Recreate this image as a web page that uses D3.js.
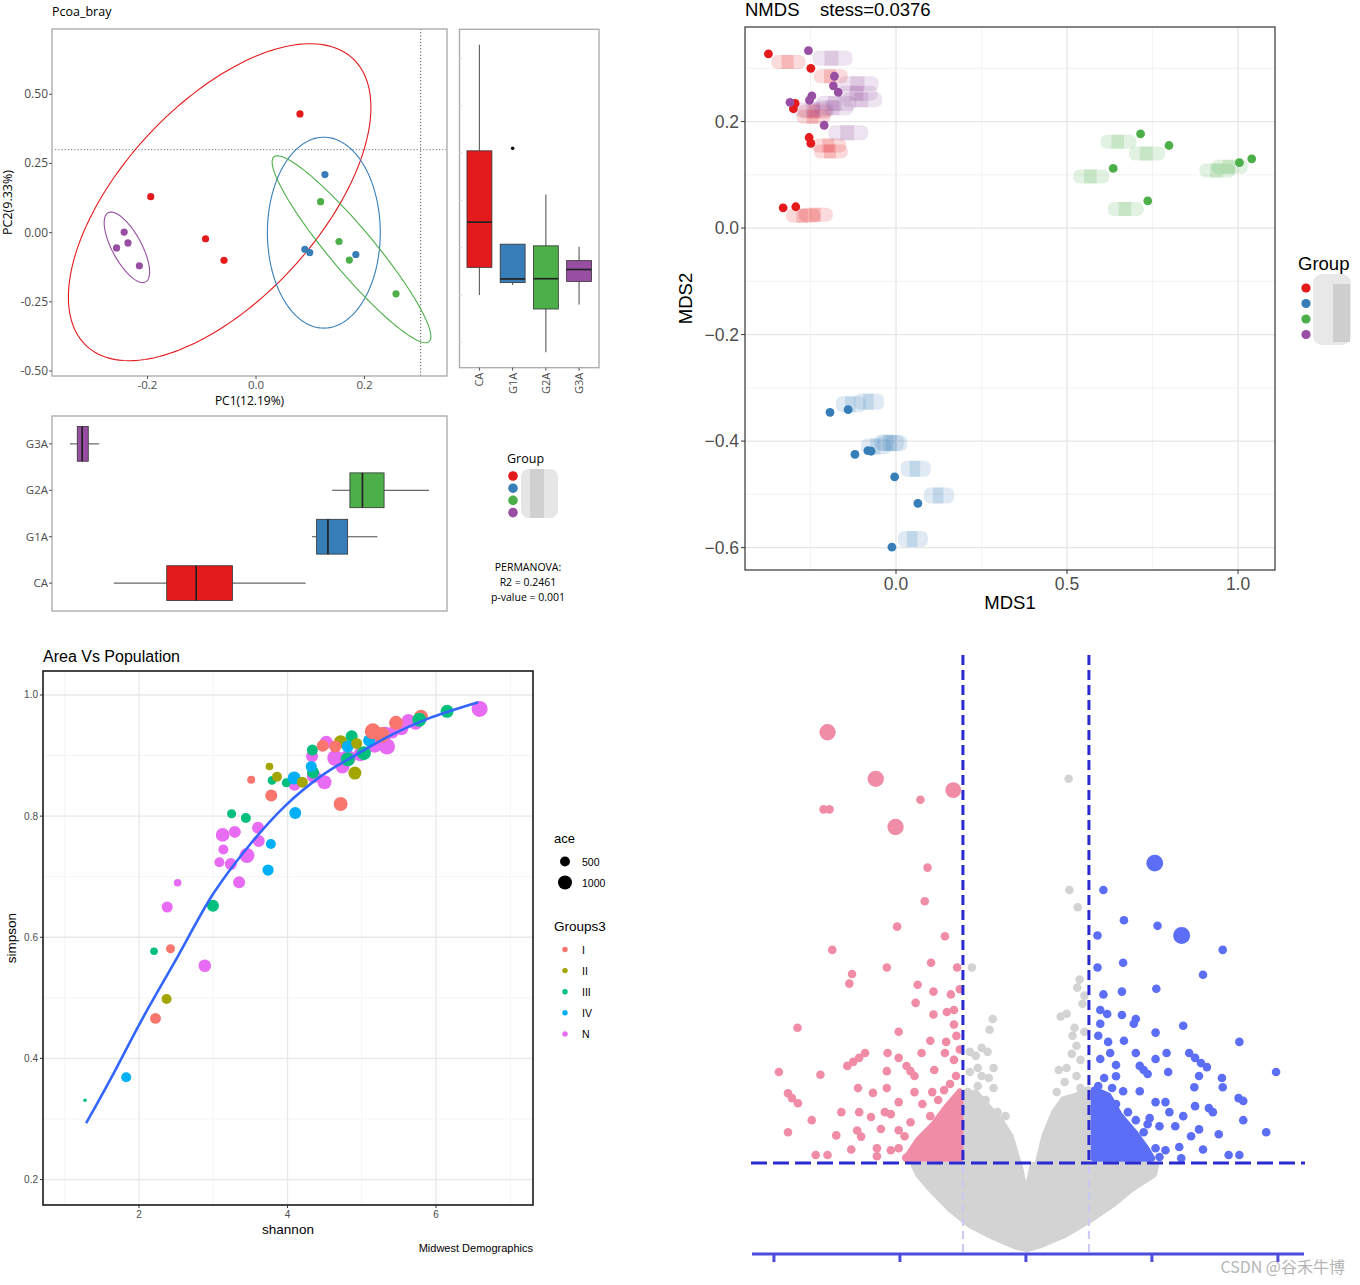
<!DOCTYPE html>
<html><head><meta charset="utf-8">
<script src="https://cdn.jsdelivr.net/npm/d3@7"></script>
<style>body{margin:0;background:#fff} svg{display:block}</style>
</head><body>
<svg id="c" width="1360" height="1285"></svg>
<script>
// ================= DATA =================
// --- PCoA (Bray) ---
const groups = ["CA","G1A","G2A","G3A"];
const pcoaGroup = ["CA","CA","CA","CA","G1A","G1A","G1A","G1A","G2A","G2A","G2A","G2A","G3A","G3A","G3A","G3A"];
const pcoaPC1 = [0.081,-0.194,-0.093,-0.059, 0.127,0.090,0.099,0.184, 0.119,0.153,0.172,0.258, -0.243,-0.257,-0.236,-0.215];
const pcoaPC2 = [0.429,0.130,-0.022,-0.100, 0.210,-0.060,-0.072,-0.079, 0.112,-0.032,-0.099,-0.221, 0.002,-0.055,-0.037,-0.120];
const ellipseCx = [-0.067, 0.125, 0.176, -0.238];
const ellipseCy = [0.110, 0.000, -0.060, -0.053];
const ellipseU = [[0.245,0.520],[0.104,0],[0.1429,-0.3338],[0.0345,-0.1249]];
const ellipseV = [[0.133,-0.240],[0,0.345],[-0.0311,-0.0511],[-0.0237,-0.0251]];
const pcoaXDomain = [-0.376, 0.352];
const pcoaYDomain = [-0.518, 0.736];
const pcoaXTicks = [-0.2, 0, 0.2];
const pcoaYTicks = [-0.5, -0.25, 0, 0.25, 0.5];
const refLineX = 0.3035, refLineY = 0.30;
const permanovaText = ["PERMANOVA:", "R2 = 0.2461", "p-value = 0.001"];

// --- NMDS ---
const nmdsGroup = ["CA","CA","CA","CA","CA","CA","CA","CA",
  "G3A","G3A","G3A","G3A","G3A","G3A","G3A","G3A",
  "G2A","G2A","G2A","G2A","G2A","G2A",
  "G1A","G1A","G1A","G1A","G1A","G1A","G1A","G1A"];
const nmds1 = [-0.373,-0.249,-0.254,-0.249,-0.330,-0.293,-0.295,-0.300,
  -0.256,-0.180,-0.183,-0.169,-0.246,-0.253,-0.310,-0.210,
  0.715,0.798,0.635,0.736,1.004,1.040,
  -0.193,-0.140,-0.120,-0.082,-0.073,-0.004,0.064,-0.012];
const nmds2 = [0.327,0.300,0.170,0.159,0.038,0.040,0.234,0.224,
  0.333,0.285,0.267,0.255,0.248,0.240,0.236,0.193,
  0.177,0.155,0.112,0.051,0.123,0.130,
  -0.346,-0.341,-0.425,-0.418,-0.419,-0.467,-0.517,-0.599];
const nmdsXDomain = [-0.4415, 1.108];
const nmdsYDomain = [-0.642, 0.3775];
const nmdsXTicks = [0, 0.5, 1.0], nmdsXMinor = [-0.25, 0.25, 0.75];
const nmdsYTicks = [-0.6, -0.4, -0.2, 0, 0.2], nmdsYMinor = [-0.5, -0.3, -0.1, 0.1, 0.3];

// --- Area Vs Population (shannon / simpson) ---
const scGroup = ["III","IV","I","II","I","III","N","N","N","III","N","N","N","N","N","N","N","N","N","IV","IV","III","III","IV","I","I","II","III","II","I","III","IV","N","II","N","III","IV","N","III","N","I","N","II","III","N","N","III","N","II","IV","I","N","III","II","IV","I","N","I","N","N","N","I","N","N","I","III","N","III","N"];
const shannon = [1.273,1.827,2.222,2.371,2.424,2.202,2.886,2.380,2.520,2.996,3.348,3.083,3.237,3.136,3.126,3.290,3.454,3.603,3.613,3.776,3.738,3.247,3.439,4.104,4.715,3.511,3.757,3.791,3.858,3.781,3.983,4.089,4.094,4.200,4.354,4.344,4.320,4.498,4.335,4.330,4.474,4.522,4.715,4.864,4.643,4.811,4.811,4.739,4.907,4.811,4.643,4.980,5.028,4.931,5.099,5.148,5.172,5.268,5.340,5.316,5.534,5.461,5.629,5.725,5.798,5.774,5.413,6.149,6.587];
const simpson = [0.331,0.369,0.466,0.498,0.581,0.577,0.553,0.650,0.690,0.652,0.691,0.724,0.721,0.745,0.769,0.774,0.735,0.781,0.759,0.754,0.711,0.804,0.797,0.805,0.820,0.860,0.882,0.859,0.865,0.834,0.855,0.863,0.852,0.856,0.866,0.872,0.882,0.856,0.909,0.899,0.916,0.922,0.923,0.932,0.896,0.896,0.894,0.882,0.871,0.915,0.915,0.902,0.904,0.920,0.925,0.940,0.918,0.934,0.915,0.936,0.945,0.954,0.957,0.954,0.964,0.959,0.938,0.973,0.977];
const ace = [66,510,595,510,413,295,810,617,300,735,735,510,735,510,940,735,1148,735,735,510,650,413,510,735,1000,327,300,377,510,735,413,862,735,617,1000,735,617,1000,617,735,735,862,862,735,1306,1306,1000,1000,862,735,735,1000,1000,617,735,1306,1306,1306,1306,1000,1000,1000,1000,1000,1000,1000,735,862,1306];
const smoothShannon = [1.288,1.6,2.043,2.525,3.006,3.487,3.969,4.45,4.932,5.413,5.894,6.568];
const smoothSimpson = [0.293,0.362,0.465,0.569,0.673,0.752,0.817,0.866,0.902,0.935,0.961,0.988];
const groups3 = ["I","II","III","IV","N"];
const aceLegend = [500, 1000];
const scXDomain = [0.707, 7.306], scYDomain = [0.158, 1.0396];
const scXTicks = [2,4,6], scXMinor = [1,3,5,7];
const scYTicks = [0.2,0.4,0.6,0.8,1.0], scYMinor = [0.3,0.5,0.7,0.9];

// --- Volcano (log2FC, -log10 p, size) ---
const volcDown = [[-3.149,7.744,3.6],[-2.384,7.048,3.6],[-1.154,6.879,3.4],[-2.070,6.327,3.6],
 [-3.212,6.591,1],[-3.118,6.591,1],[-1.675,6.735,1],[-1.562,5.720,1],[-1.606,5.216,1],[-2.045,4.837,1],
 [-1.286,4.693,1],[-3.074,4.489,1],[-2.760,4.129,1],[-2.804,3.985,1],[-2.208,4.225,1],[-1.506,4.297,1],
 [-1.092,4.225,1],[-1.719,3.967,1],[-1.468,3.865,1],[-1.192,3.823,1],[-1.751,3.697,1],[-1.468,3.522,1],
 [-1.255,3.56,1],[-1.142,3.59,1],[-3.626,3.324,1],[-2.020,3.264,1],[-1.142,3.372,1],[-1.518,3.131,1],
 [-1.267,3.113,1],[-1.104,3.203,1],[-2.553,2.946,1],[-2.647,2.874,1],[-2.741,2.814,1],[-2.835,2.754,1],
 [-2.196,2.946,1],[-2.020,2.874,1],[-1.656,2.946,1],[-1.286,2.946,1],[-3.921,2.663,1],[-3.262,2.621,1],
 [-2.208,2.675,1],[-1.895,2.753,1],[-1.832,2.675,1],[-1.769,2.603,1],[-1.455,2.693,1],[-1.142,2.844,1],
 [-3.777,2.344,1],[-3.714,2.272,1],[-3.620,2.194,1],[-2.666,2.422,1],[-2.428,2.350,1],[-2.208,2.422,1],
 [-1.769,2.362,1],[-1.487,2.362,1],[-1.299,2.392,1],[-3.400,1.942,1],[-2.930,2.062,1],[-2.647,2.062,1],
 [-2.459,1.990,1],[-2.239,2.062,1],[-2.145,2.032,1],[-2.020,2.212,1],[-3.777,1.762,1],[-3.011,1.714,1],
 [-2.679,1.787,1],[-2.616,1.696,1],[-2.302,1.810,1],[-2.020,1.792,1],[-3.337,1.420,1],[-3.149,1.420,1],
 [-2.773,1.504,1],[-2.365,1.522,1],[-2.365,1.402,1],[-2.145,1.492,1],[-1.05,3.9,1],[-1.05,3.0,1],
 [-1.644,2.183,1],[-1.518,2.002,1],[-1.832,1.912,1],[-1.926,1.702,1],[-2.020,1.522,1],[-1.769,1.522,1],
 [-1.393,2.243,1],[-1.205,2.483,1],[-1.110,2.603,1],[-1.330,1.762,1],[-1.60,1.40,1],[-1.90,1.38,1]];
const volcUp = [[2.045,5.786,3.8],[2.472,4.705,3.9],[1.230,5.384,1],[1.556,4.933,1],[2.089,4.849,1],
 [1.136,4.705,1],[3.124,4.489,1],[1.543,4.297,1],[1.136,4.225,1],[2.811,4.117,1],[1.524,3.865,1],
 [2.070,3.907,1],[1.230,3.823,1],[1.18,3.59,1],[1.29,3.53,1],[1.524,3.516,1],[1.744,3.456,1],
 [1.712,3.384,1],[2.497,3.354,1],[1.18,3.384,1],[2.058,3.252,1],[1.148,3.204,1],[1.305,3.113,1],
 [1.556,3.131,1],[3.388,3.113,1],[1.337,2.946,1],[1.744,2.946,1],[2.233,2.946,1],[2.591,2.946,1],
 [2.685,2.874,1],[2.779,2.796,1],[2.873,2.736,1],[1.18,2.856,1],[2.058,2.856,1],[1.43,2.766,1],
 [1.807,2.754,1],[1.869,2.693,1],[1.932,2.633,1],[2.258,2.663,1],[2.748,2.603,1],[3.971,2.663,1],
 [1.242,2.573,1],[1.43,2.6,1],[3.112,2.573,1],[3.124,2.435,1],[1.148,2.453,1],[1.543,2.375,1],
 [1.807,2.375,1],[2.673,2.435,1],[3.375,2.272,1],[3.450,2.230,1],[2.058,2.212,1],[2.215,2.212,1],
 [2.277,2.062,1],[2.685,2.152,1],[2.905,2.122,1],[2.967,2.062,1],[2.497,2.002,1],[3.450,1.942,1],
 [1.964,1.972,1],[2.120,1.852,1],[2.371,1.852,1],[2.748,1.804,1],[2.622,1.702,1],[3.061,1.732,1],
 [3.814,1.762,1],[2.215,1.492,1],[2.434,1.540,1],[2.811,1.504,1],[3.218,1.420,1],[3.388,1.420,1],
 [2.120,1.390,1],[2.465,1.372,1],[1.430,2.183,1],[1.619,2.062,1],[1.744,1.942,1],[1.869,1.762,1],
 [2.058,1.522,1],[1.932,1.882,1],[1.681,1.642,1],[1.368,2.423,1]];
const volcNS = [[0.678,7.048,1],[0.690,5.384,1],[0.822,5.126,1],[-0.859,4.225,1],[0.853,4.045,1],
 [0.815,3.925,1],[0.552,3.492,1],[0.646,3.534,1],[-0.527,3.456,1],[-0.577,3.294,1],[-0.703,3.024,1],
 [-0.797,2.904,1],[-0.765,2.723,1],[-0.514,2.723,1],[-0.590,2.573,1],[0.772,3.324,1],
 [-0.891,2.663,1],[-0.922,2.363,1],[-0.765,2.453,1],[-0.640,2.243,1],[-0.452,2.062,1],[-0.326,2.002,1],
 [-0.828,2.183,1],[-0.514,2.423,1],[-0.703,2.603,1],[-0.891,2.964,1],[-0.609,2.964,1],
 [0.740,3.204,1],[0.803,3.054,1],[0.728,2.934,1],[0.866,2.844,1],[0.646,2.723,1],[0.521,2.693,1],
 [0.803,2.603,1],[0.615,2.513,1],[0.866,2.423,1],[0.489,2.363,1],[0.709,2.243,1],[0.928,3.264,1],
 [0.897,3.684,1],[0.928,3.805,1]];
// dense clouds outlined from the picture (log2FC, -log10 p)
const nsBelow = [[-1.769,1.264],[-0.107,1.264],[0,0.771],[0.113,1.264],[2.058,1.264],[2.026,1.132],[1.681,0.922],[1.368,0.681],[0.991,0.441],[0.615,0.231],[0.238,0.080],[0.019,0.020],[-0.138,0.050],[-0.514,0.201],[-0.891,0.381],[-1.205,0.621],[-1.518,0.922],[-1.706,1.132]];
const nsLeftArm = [[-0.985,1.282],[-0.985,2.25],[-0.80,2.35],[-0.62,2.15],[-0.42,1.95],[-0.25,1.70],[-0.12,1.282]];
const nsRightArm = [[0.19,1.282],[0.30,1.70],[0.45,2.05],[0.60,2.25],[0.80,2.30],[0.985,2.40],[0.985,1.282]];
const downCloud = [[-1.048,2.363],[-1.048,1.372],[-1.895,1.372],[-1.706,1.642],[-1.455,1.882],[-1.267,2.123]];
const upCloud = [[1.085,2.393],[1.305,2.303],[1.493,2.002],[1.713,1.762],[1.901,1.522],[1.995,1.372],[1.085,1.372]];
const volcFC = 1, volcP = 1.3;
const volcXTicks = [-4,-2,0,2,4];
const volcXDomain = [-4.38, 4.43], volcYDomain = [0, 8.9];

// ================= DRAWING =================
const svg = d3.select("#c");
svg.append("rect").attr("width",1360).attr("height",1285).attr("fill","#fff");
const SET1 = {CA:"#E41A1C", G1A:"#377EB8", G2A:"#4DAF4A", G3A:"#984EA3"};
const fA = "'Open Sans','DejaVu Sans',sans-serif";
const fB = "'Liberation Sans',Arial,sans-serif";

function boxStats(vals){
  const s = vals.slice().sort(d3.ascending);
  const q1 = d3.quantileSorted(s,0.25), med = d3.quantileSorted(s,0.5), q3 = d3.quantileSorted(s,0.75);
  const iqr = q3-q1, lo = q1-1.5*iqr, hi = q3+1.5*iqr;
  const inside = s.filter(v=>v>=lo && v<=hi);
  return {q1, med, q3, wlo:d3.min(inside), whi:d3.max(inside), out:s.filter(v=>v<lo||v>hi)};
}
function expand(ext, f){ const d=(ext[1]-ext[0])*f; return [ext[0]-d, ext[1]+d]; }
function txt(g, x, y, s, size, opt={}){
  return g.append("text").attr("x",x).attr("y",y).text(s)
    .attr("font-family",opt.font||fA).attr("font-size",size).attr("fill",opt.fill||"#000")
    .attr("text-anchor",opt.anchor||"start");
}

// ---------- Panel 1: PCoA ----------
const P1 = {l:52, r:447, t:29, b:376};
const x1 = d3.scaleLinear().domain(pcoaXDomain).range([P1.l,P1.r]);
const y1 = d3.scaleLinear().domain(pcoaYDomain).range([P1.b,P1.t]);
const g1 = svg.append("g");
txt(g1, 52, 16, "Pcoa_bray", 12.5);
g1.append("line").attr("x1",P1.l+3).attr("x2",P1.r).attr("y1",y1(refLineY)).attr("y2",y1(refLineY))
  .attr("stroke","#777").attr("stroke-width",1).attr("stroke-dasharray","1.2,2");
g1.append("line").attr("x1",x1(refLineX)).attr("x2",x1(refLineX)).attr("y1",P1.t).attr("y2",P1.b)
  .attr("stroke","#555").attr("stroke-width",1).attr("stroke-dasharray","1.2,2");
groups.forEach((grp,i)=>{
  const pts = d3.range(0,360,2).map(a=>{const t=a*Math.PI/180;
    return [ellipseCx[i]+ellipseU[i][0]*Math.cos(t)+ellipseV[i][0]*Math.sin(t),
            ellipseCy[i]+ellipseU[i][1]*Math.cos(t)+ellipseV[i][1]*Math.sin(t)];});
  g1.append("path").attr("d", d3.line().x(d=>x1(d[0])).y(d=>y1(d[1])).curve(d3.curveLinearClosed)(pts))
    .attr("fill","none").attr("stroke",SET1[grp]).attr("stroke-width",1.1);
});
g1.selectAll("circle.p").data(pcoaPC1.map((v,i)=>i)).join("circle")
  .attr("cx",i=>x1(pcoaPC1[i])).attr("cy",i=>y1(pcoaPC2[i])).attr("r",3.6).attr("fill",i=>SET1[pcoaGroup[i]]);
g1.append("rect").attr("x",P1.l).attr("y",P1.t).attr("width",P1.r-P1.l).attr("height",P1.b-P1.t)
  .attr("fill","none").attr("stroke","#a8a8a8").attr("stroke-width",1.3);
pcoaXTicks.forEach(v=>{
  g1.append("line").attr("x1",x1(v)).attr("x2",x1(v)).attr("y1",P1.b).attr("y2",P1.b+3).attr("stroke","#555");
  txt(g1, x1(v), P1.b+13, v.toFixed(1), 11.5, {anchor:"middle",fill:"#4d4d4d"});
});
pcoaYTicks.forEach(v=>{
  g1.append("line").attr("x1",P1.l-3).attr("x2",P1.l).attr("y1",y1(v)).attr("y2",y1(v)).attr("stroke","#555");
  txt(g1, P1.l-4, y1(v)+4, v.toFixed(2), 12, {anchor:"end",fill:"#4d4d4d"});
});
txt(g1, (P1.l+P1.r)/2, 405, "PC1(12.19%)", 12, {anchor:"middle"});
txt(g1, 0, 0, "PC2(9.33%)", 12.5, {anchor:"middle"}).attr("transform",`translate(12,${(P1.t+P1.b)/2}) rotate(-90)`);

// ---------- Panel 2: PC2 boxplots ----------
const P2 = {l:459.5, r:599, t:29.3, b:367.7};
const x2 = d3.scalePoint().domain(groups).range([P2.l,P2.r]).padding(0.6);
const y2 = d3.scaleLinear().domain(expand(d3.extent(pcoaPC2),0.05)).range([P2.b,P2.t]);
const g2 = svg.append("g");
g2.append("rect").attr("x",P2.l).attr("y",P2.t).attr("width",P2.r-P2.l).attr("height",P2.b-P2.t)
  .attr("fill","none").attr("stroke","#a8a8a8").attr("stroke-width",1.3);
d3.range(-0.2,0.41,0.1).forEach(v=>{
  g2.append("line").attr("x1",P2.l).attr("x2",P2.l+3).attr("y1",y2(v)).attr("y2",y2(v)).attr("stroke","#ddd");
});
const bw2 = x2.step()*0.75;
groups.forEach(grp=>{
  const st = boxStats(pcoaPC2.filter((v,i)=>pcoaGroup[i]===grp));
  const cx = x2(grp);
  g2.append("line").attr("x1",cx).attr("x2",cx).attr("y1",y2(st.whi)).attr("y2",y2(st.q3)).attr("stroke","#666").attr("stroke-width",1.2);
  g2.append("line").attr("x1",cx).attr("x2",cx).attr("y1",y2(st.q1)).attr("y2",y2(st.wlo)).attr("stroke","#666").attr("stroke-width",1.2);
  g2.append("rect").attr("x",cx-bw2/2).attr("width",bw2).attr("y",y2(st.q3)).attr("height",y2(st.q1)-y2(st.q3))
    .attr("fill",SET1[grp]).attr("stroke","#333").attr("stroke-width",0.8);
  g2.append("line").attr("x1",cx-bw2/2).attr("x2",cx+bw2/2).attr("y1",y2(st.med)).attr("y2",y2(st.med)).attr("stroke","#222").attr("stroke-width",1.7);
  st.out.forEach(o=>g2.append("circle").attr("cx",cx).attr("cy",y2(o)).attr("r",1.8).attr("fill","#111"));
  g2.append("line").attr("x1",cx).attr("x2",cx).attr("y1",P2.b).attr("y2",P2.b+3).attr("stroke","#555");
  txt(g2, 0, 0, grp, 11, {anchor:"end",fill:"#4d4d4d"}).attr("transform",`translate(${cx+4},${P2.b+5}) rotate(-90)`);
});

// ---------- Panel 3: PC1 boxplots ----------
const P3 = {l:52, r:447, t:416, b:611};
const x3 = d3.scaleLinear().domain(expand(d3.extent(pcoaPC1),0.05)).range([P3.l,P3.r]);
const y3 = d3.scalePoint().domain(groups).range([P3.b,P3.t]).padding(0.6);
const g3 = svg.append("g");
g3.append("rect").attr("x",P3.l).attr("y",P3.t).attr("width",P3.r-P3.l).attr("height",P3.b-P3.t)
  .attr("fill","none").attr("stroke","#a8a8a8").attr("stroke-width",1.3);
const bh3 = y3.step()*0.75;
groups.forEach(grp=>{
  const st = boxStats(pcoaPC1.filter((v,i)=>pcoaGroup[i]===grp));
  const cy = y3(grp);
  g3.append("line").attr("y1",cy).attr("y2",cy).attr("x1",x3(st.wlo)).attr("x2",x3(st.q1)).attr("stroke","#666").attr("stroke-width",1.2);
  g3.append("line").attr("y1",cy).attr("y2",cy).attr("x1",x3(st.q3)).attr("x2",x3(st.whi)).attr("stroke","#666").attr("stroke-width",1.2);
  g3.append("rect").attr("y",cy-bh3/2).attr("height",bh3).attr("x",x3(st.q1)).attr("width",x3(st.q3)-x3(st.q1))
    .attr("fill",SET1[grp]).attr("stroke","#333").attr("stroke-width",0.8);
  g3.append("line").attr("y1",cy-bh3/2).attr("y2",cy+bh3/2).attr("x1",x3(st.med)).attr("x2",x3(st.med)).attr("stroke","#222").attr("stroke-width",1.7);
  st.out.forEach(o=>g3.append("circle").attr("cy",cy).attr("cx",x3(o)).attr("r",1.8).attr("fill","#111"));
  g3.append("line").attr("x1",P3.l-3).attr("x2",P3.l).attr("y1",cy).attr("y2",cy).attr("stroke","#555");
  txt(g3, P3.l-4, cy+4, grp, 11.5, {anchor:"end",fill:"#4d4d4d"});
});

// legend for panel 1
const gl1 = svg.append("g");
txt(gl1, 507, 463, "Group", 12.5);
gl1.append("rect").attr("x",521).attr("y",469).attr("width",37).attr("height",49).attr("rx",8).attr("fill","#e6e6e6");
gl1.append("rect").attr("x",530).attr("y",469).attr("width",14).attr("height",49).attr("fill","#d0d0d0");
groups.forEach((grp,i)=>gl1.append("circle").attr("cx",513).attr("cy",476+i*12.2).attr("r",4.8).attr("fill",SET1[grp]));
permanovaText.forEach((s,i)=>txt(gl1, 528, 571+i*15, s, 10.5, {anchor:"middle"}));

// ---------- Panel 4: NMDS ----------
const P4 = {l:745, r:1275, t:27, b:570};
const x4 = d3.scaleLinear().domain(nmdsXDomain).range([P4.l,P4.r]);
const y4 = d3.scaleLinear().domain(nmdsYDomain).range([P4.b,P4.t]);
const g4 = svg.append("g");
nmdsXMinor.forEach(v=>g4.append("line").attr("x1",x4(v)).attr("x2",x4(v)).attr("y1",P4.t).attr("y2",P4.b).attr("stroke","#f0f0f0").attr("stroke-width",0.8));
nmdsYMinor.forEach(v=>g4.append("line").attr("y1",y4(v)).attr("y2",y4(v)).attr("x1",P4.l).attr("x2",P4.r).attr("stroke","#f0f0f0").attr("stroke-width",0.8));
nmdsXTicks.forEach(v=>g4.append("line").attr("x1",x4(v)).attr("x2",x4(v)).attr("y1",P4.t).attr("y2",P4.b).attr("stroke","#e6e6e6").attr("stroke-width",1.3));
nmdsYTicks.forEach(v=>g4.append("line").attr("y1",y4(v)).attr("y2",y4(v)).attr("x1",P4.l).attr("x2",P4.r).attr("stroke","#e6e6e6").attr("stroke-width",1.3));
// censored label blocks
const labOff = {CA:[3,1,34,14], G3A:[4,0,40,15], G2A:[-40,1,36,14], G1A:[6,-16,30,16]};
nmds1.forEach((v,i)=>{
  const grp = nmdsGroup[i], o = labOff[grp], px = x4(v), py = y4(nmds2[i]);
  g4.append("rect").attr("x",px+o[0]).attr("y",py+o[1]).attr("width",o[2]).attr("height",o[3]).attr("rx",6)
    .attr("fill",SET1[grp]).attr("opacity",0.16);
  g4.append("rect").attr("x",px+o[0]+o[2]*0.3).attr("y",py+o[1]).attr("width",o[2]*0.35).attr("height",o[3])
    .attr("fill",SET1[grp]).attr("opacity",0.18);
});
g4.selectAll("circle.n").data(nmds1.map((v,i)=>i)).join("circle")
  .attr("cx",i=>x4(nmds1[i])).attr("cy",i=>y4(nmds2[i])).attr("r",4.4).attr("fill",i=>SET1[nmdsGroup[i]]);
g4.append("rect").attr("x",P4.l).attr("y",P4.t).attr("width",P4.r-P4.l).attr("height",P4.b-P4.t)
  .attr("fill","none").attr("stroke","#333").attr("stroke-width",1.2);
const fm4 = d3.format(".1f");
nmdsXTicks.forEach(v=>{
  g4.append("line").attr("x1",x4(v)).attr("x2",x4(v)).attr("y1",P4.b).attr("y2",P4.b+4).attr("stroke","#333");
  txt(g4, x4(v), P4.b+20, fm4(v), 17.5, {anchor:"middle",fill:"#4d4d4d",font:fB});
});
nmdsYTicks.forEach(v=>{
  g4.append("line").attr("x1",P4.l-4).attr("x2",P4.l).attr("y1",y4(v)).attr("y2",y4(v)).attr("stroke","#333");
  txt(g4, P4.l-6, y4(v)+6, fm4(v), 17.5, {anchor:"end",fill:"#4d4d4d",font:fB});
});
txt(g4, 745, 16, "NMDS    stess=0.0376", 18.5, {font:fB}).attr("xml:space","preserve").style("white-space","pre");
txt(g4, (P4.l+P4.r)/2, 609, "MDS1", 18.5, {anchor:"middle",font:fB});
txt(g4, 0, 0, "MDS2", 18.5, {anchor:"middle",font:fB}).attr("transform",`translate(692,${(P4.t+P4.b)/2}) rotate(-90)`);
// legend
txt(g4, 1298, 270, "Group", 18.5, {font:fB});
g4.append("rect").attr("x",1313).attr("y",274).attr("width",38).attr("height",71).attr("rx",9).attr("fill","#e8e8e8");
g4.append("rect").attr("x",1333).attr("y",284).attr("width",17).attr("height",58).attr("fill","#cfcfcf");
groups.forEach((grp,i)=>g4.append("circle").attr("cx",1306).attr("cy",288+i*15.5).attr("r",4.6).attr("fill",SET1[grp]));

// ---------- Panel 5: Area Vs Population ----------
const P5 = {l:43, r:533, t:671, b:1205};
const x5 = d3.scaleLinear().domain(scXDomain).range([P5.l,P5.r]);
const y5 = d3.scaleLinear().domain(scYDomain).range([P5.b,P5.t]);
const r5 = d3.scaleSqrt().domain([0,1000]).range([0,7]);
const col5 = d3.scaleOrdinal().domain(groups3).range(["#F8766D","#A3A500","#00BF7D","#00B0F6","#E76BF3"]);
const g5 = svg.append("g");
txt(g5, 43, 662, "Area Vs Population", 16, {font:fB});
scXMinor.forEach(v=>g5.append("line").attr("x1",x5(v)).attr("x2",x5(v)).attr("y1",P5.t).attr("y2",P5.b).attr("stroke","#f2f2f2").attr("stroke-width",0.8));
scYMinor.forEach(v=>g5.append("line").attr("y1",y5(v)).attr("y2",y5(v)).attr("x1",P5.l).attr("x2",P5.r).attr("stroke","#f2f2f2").attr("stroke-width",0.8));
scXTicks.forEach(v=>g5.append("line").attr("x1",x5(v)).attr("x2",x5(v)).attr("y1",P5.t).attr("y2",P5.b).attr("stroke","#e8e8e8").attr("stroke-width",1.3));
scYTicks.forEach(v=>g5.append("line").attr("y1",y5(v)).attr("y2",y5(v)).attr("x1",P5.l).attr("x2",P5.r).attr("stroke","#e8e8e8").attr("stroke-width",1.3));
const idx5 = d3.range(shannon.length).sort((a,b)=>(scGroup[a]==="N"?0:1)-(scGroup[b]==="N"?0:1));
g5.selectAll("circle.s").data(idx5).join("circle")
  .attr("cx",i=>x5(shannon[i])).attr("cy",i=>y5(simpson[i])).attr("r",i=>r5(ace[i])).attr("fill",i=>col5(scGroup[i]));
g5.append("path").attr("d", d3.line().x((d,i)=>x5(smoothShannon[i])).y((d,i)=>y5(smoothSimpson[i])).curve(d3.curveCatmullRom)(smoothShannon))
  .attr("fill","none").attr("stroke","#3366FF").attr("stroke-width",2.6);
g5.append("rect").attr("x",P5.l).attr("y",P5.t).attr("width",P5.r-P5.l).attr("height",P5.b-P5.t)
  .attr("fill","none").attr("stroke","#1a1a1a").attr("stroke-width",1.6);
scXTicks.forEach(v=>{
  g5.append("line").attr("x1",x5(v)).attr("x2",x5(v)).attr("y1",P5.b).attr("y2",P5.b+3).attr("stroke","#333");
  txt(g5, x5(v), P5.b+13, String(v), 10, {anchor:"middle",fill:"#4d4d4d",font:fB});
});
scYTicks.forEach(v=>{
  g5.append("line").attr("x1",P5.l-3).attr("x2",P5.l).attr("y1",y5(v)).attr("y2",y5(v)).attr("stroke","#333");
  txt(g5, P5.l-5, y5(v)+3.5, v.toFixed(1), 10, {anchor:"end",fill:"#4d4d4d",font:fB});
});
txt(g5, (P5.l+P5.r)/2, 1234, "shannon", 13.5, {anchor:"middle",font:fB});
txt(g5, 0, 0, "simpson", 13.5, {anchor:"middle",font:fB}).attr("transform",`translate(16,938) rotate(-90)`);
txt(g5, 533, 1252, "Midwest Demographics", 11, {anchor:"end",font:fB});
// legends
txt(g5, 554, 843, "ace", 13, {font:fB});
aceLegend.forEach((v,i)=>{
  const cy = [861.5,882.5][i];
  g5.append("circle").attr("cx",565).attr("cy",cy).attr("r",r5(v)).attr("fill","#000");
  txt(g5, 582, cy+4, String(v), 10.5, {font:fB});
});
txt(g5, 554, 931, "Groups3", 13.5, {font:fB});
groups3.forEach((grp,i)=>{
  const cy = 949.5 + i*21.1;
  g5.append("circle").attr("cx",565).attr("cy",cy).attr("r",2.7).attr("fill",col5(grp));
  txt(g5, 582, cy+4, grp, 10.5, {font:fB});
});

// ---------- Panel 6: Volcano ----------
const x6 = d3.scaleLinear().domain(volcXDomain).range([750,1305]);
const y6 = d3.scaleLinear().domain(volcYDomain).range([1250,655]);
const r6 = d3.scaleSqrt().domain([0,4]).range([0,8.6]);
const g6 = svg.append("g");
const poly = d3.line().x(d=>x6(d[0])).y(d=>y6(d[1])).curve(d3.curveLinearClosed);
const GREY = "#d3d3d3", PINK = "#F08CA6", BLUE = "#5B6EF5";
[nsBelow, nsLeftArm, nsRightArm].forEach(p=>g6.append("path").attr("d",poly(p)).attr("fill",GREY)
  .attr("stroke",GREY).attr("stroke-width",7).attr("stroke-linejoin","round"));
volcNS.forEach(d=>g6.append("circle").attr("cx",x6(d[0])).attr("cy",y6(d[1])).attr("r",r6(d[2])).attr("fill",GREY));
g6.append("path").attr("d",poly(downCloud)).attr("fill",PINK).attr("stroke",PINK).attr("stroke-width",7).attr("stroke-linejoin","round");
g6.append("path").attr("d",poly(upCloud)).attr("fill",BLUE).attr("stroke",BLUE).attr("stroke-width",7).attr("stroke-linejoin","round");
volcDown.forEach(d=>g6.append("circle").attr("cx",x6(d[0])).attr("cy",y6(d[1])).attr("r",r6(d[2])).attr("fill",PINK));
volcUp.forEach(d=>g6.append("circle").attr("cx",x6(d[0])).attr("cy",y6(d[1])).attr("r",r6(d[2])).attr("fill",BLUE));
// threshold lines
[-volcFC, volcFC].forEach(v=>{
  g6.append("line").attr("x1",x6(v)).attr("x2",x6(v)).attr("y1",655).attr("y2",y6(volcP))
    .attr("stroke","#2a2ad0").attr("stroke-width",3).attr("stroke-dasharray","10,5");
  g6.append("line").attr("x1",x6(v)).attr("x2",x6(v)).attr("y1",y6(volcP)+3).attr("y2",1252)
    .attr("stroke","#c9c9f2").attr("stroke-width",2).attr("stroke-dasharray","8,5");
});
g6.append("line").attr("x1",751).attr("x2",1305).attr("y1",y6(volcP)).attr("y2",y6(volcP))
  .attr("stroke","#2a2ad0").attr("stroke-width",3).attr("stroke-dasharray","16,6");
g6.append("line").attr("x1",752).attr("x2",1304).attr("y1",1254).attr("y2",1254).attr("stroke","#4b4bdc").attr("stroke-width",3);
volcXTicks.forEach(v=>g6.append("line").attr("x1",x6(v)).attr("x2",x6(v)).attr("y1",1254).attr("y2",1262).attr("stroke","#4b4bdc").attr("stroke-width",3));
txt(g6, 1345, 1273, "CSDN @谷禾牛博", 16, {anchor:"end",fill:"#b5b5b5",font:"'Noto Sans CJK SC','Liberation Sans',sans-serif"});
</script>
</body></html>
